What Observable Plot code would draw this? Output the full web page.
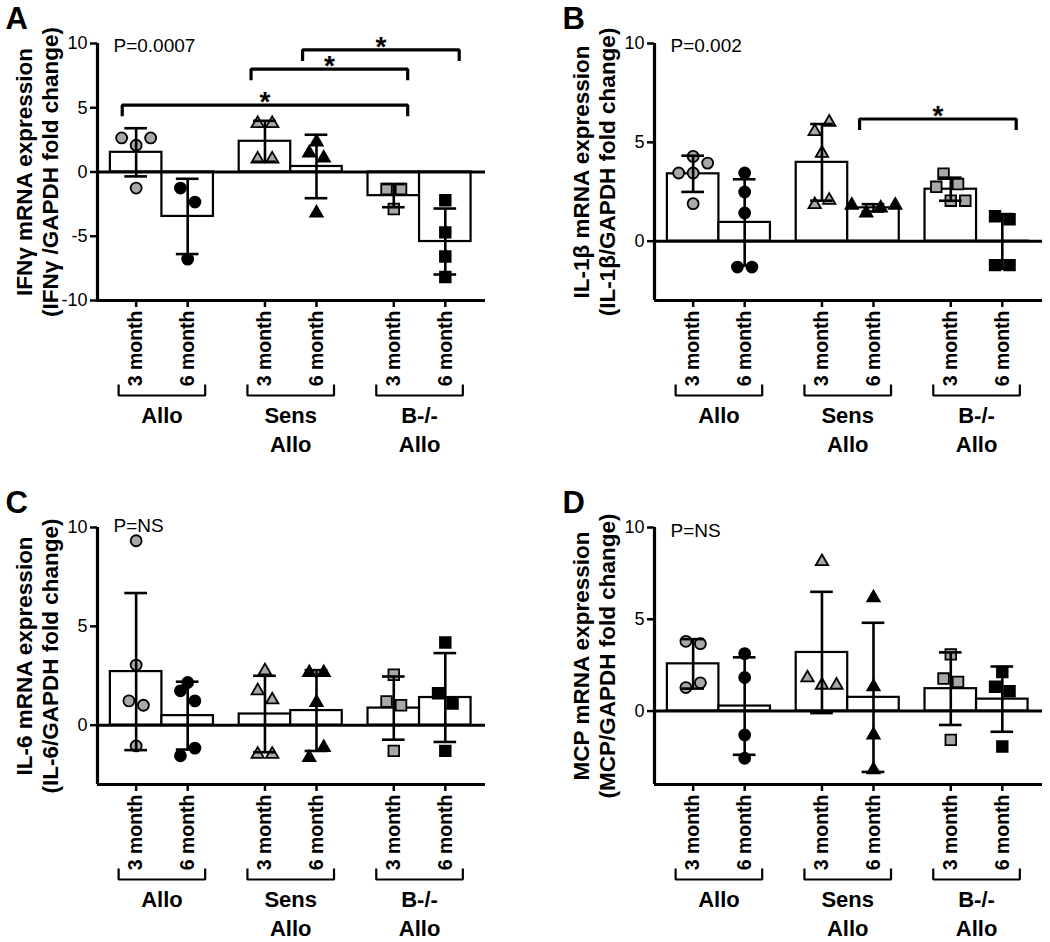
<!DOCTYPE html>
<html><head><meta charset="utf-8">
<script src="https://cdn.jsdelivr.net/npm/d3@7"></script>
<script src="https://cdn.jsdelivr.net/npm/@observablehq/plot@0.6"></script>
<style>
body{margin:0;background:#fff;}
#wrap{position:relative;width:1050px;height:942px;overflow:hidden;background:#fff;}
.panel{position:absolute;}
.panel svg{max-width:none !important;}
</style></head><body><div id="wrap"></div>
<script>
// ---- categories ----
const groups = ["Allo", "Sens\nAllo", "B-/-\nAllo"];
const times = ["3 month", "6 month"];
// order of categories: Allo 3m, Allo 6m, Sens 3m, Sens 6m, B-/- 3m, B-/- 6m

// ---- individual values (fold change), per category ----
const ifngValues = [[2.65, 2.08, 2.65, -1.25], [-1.25, -2.34, -6.78], [3.77, 3.77, 1.01, 1.01], [2.34, 1.48, 1.09, -3.19], [-1.32, -1.32, -2.88], [-2.2, -4.7, -6.57, -8.17]];
const il1bValues = [[3.45, 3.45, 3.95, 4.29, 1.9], [3.45, 2.49, 1.43, -1.31, -1.31], [5.55, 6.02, 4.45, 1.85, 2.07], [1.82, 1.43, 1.68, 1.82], [3.41, 2.89, 2.75, 2.05, 2.05], [1.26, 1.11, -1.21, -1.21]];
const il6Values = [[9.33, 3.04, 1.23, 1.01, -1.05], [2.16, 1.74, 1.23, -1.55, -1.16], [2.75, 1.74, 1.28, -1.47, -1.47], [2.66, 2.66, 1.15, -1.64, -1.13], [2.55, 1.2, 1.01, -1.3], [4.18, 1.62, 1.1, -1.3]];
const mcpValues = [[3.8, 3.67, 1.28, 1.54], [3.13, 1.83, -1.3, -2.57], [8.14, 1.81, 1.41, 1.41], [6.17, 1.32, -1.3, -3.2], [3.09, 1.77, 1.59, -1.57], [2.13, 1.32, 1.08, -1.93]];

// ---- significance brackets (category indices, bracket level) ----
const ifngSignif = [{from: 0, to: 4, y: 5.2}, {from: 2, to: 4, y: 8.0}, {from: 3, to: 5, y: 9.5}];
const il1bSignif = [{from: 3, to: 5, y: 6.18}];

// ---- texts / axes ----
const panelLetters = ["A", "B", "C", "D"];
const yLabels = ["IFNγ mRNA expression\n(IFNγ /GAPDH fold change)", "IL-1β mRNA expression\n(IL-1β/GAPDH fold change)", "IL-6 mRNA expression\n(IL-6/GAPDH fold change)", "MCP mRNA expression\n(MCP/GAPDH fold change)"];
const pTexts = ["P=0.0007", "P=0.002", "P=NS", "P=NS"];
const yDomains = [[-10, 10], [-3, 10], [-3, 10], [-4, 10]];
const yTickValues = [[-10, -5, 0, 5, 10], [0, 5, 10], [0, 5, 10], [0, 5, 10]];

// ---- layout ----
const W = 500, H = 470, ML = 97, MR = 15, MT = 43, MB = 170;
const XDOMAIN = [-0.75, 6.78];
const GROUP_STEP = 2.5;
const innerW = W - ML - MR, innerH = H - MT - MB;
const pxPerX = innerW / (XDOMAIN[1] - XDOMAIN[0]);
const ROW_PX = 14.5, SLOT_PX = 14.5;
const FONT = "'Liberation Sans', Arial, Helvetica, sans-serif";
const GRAY = "#a8a8a8";
const symbols = ["circle", "triangle", "square"];
const symbolR = {circle: 5.5, triangle: 4.6, square: 6};
const GROUP_FS = 22, GROUP_LH = 1.32;

const panelDefs = [
  {values: ifngValues, signif: ifngSignif, left: 0, top: 0, pDy: -5},
  {values: il1bValues, signif: il1bSignif, left: 557, top: 0, pDy: -5},
  {values: il6Values, signif: [], left: 0, top: 484, pDy: -9},
  {values: mcpValues, signif: [], left: 557, top: 484, pDy: -4}
];

const catPos = i => Math.floor(i / 2) * GROUP_STEP + (i % 2);

function dodge(vals, ppu) {
  const order = d3.range(vals.length).sort((a, b) => vals[a] - vals[b] || a - b);
  const rows = [];
  let cur = null;
  for (const i of order) {
    if (!cur || (vals[i] - cur.start) * ppu > ROW_PX) { cur = {start: vals[i], m: []}; rows.push(cur); }
    cur.m.push(i);
  }
  const off = new Array(vals.length).fill(0);
  for (const r of rows) {
    r.m.sort((a, b) => a - b);
    const n = r.m.length;
    r.m.forEach((i, k) => off[i] = (k - (n - 1) / 2) * SLOT_PX / pxPerX);
  }
  return off;
}

function makePanel(k) {
  const def = panelDefs[k];
  const [ymin, ymax] = yDomains[k];
  const ppu = innerH / (ymax - ymin);
  const cats = def.values.map((vals, i) => {
    const mean = d3.mean(vals), sd = d3.deviation(vals);
    return {i, pos: catPos(i), mean, sd, group: Math.floor(i / 2), time: i % 2};
  });
  const points = [];
  def.values.forEach((vals, i) => {
    const off = dodge(vals, ppu);
    vals.forEach((v, j) => points.push({cat: i, x: catPos(i) + off[j], y: v}));
  });
  const caps = cats.flatMap(c => [{pos: c.pos, y: c.mean - c.sd}, {pos: c.pos, y: c.mean + c.sd}]);
  const tickLabel = new Map(cats.map(c => [c.pos, times[c.time]]));

  // significance brackets
  const drop = 11 / ppu;
  const sigLines = def.signif.flatMap((s, j) => {
    const x1 = catPos(s.from) - 0.27, x2 = catPos(s.to) + 0.27;
    return [{j, x: x1, y: s.y - drop}, {j, x: x1, y: s.y}, {j, x: x2, y: s.y}, {j, x: x2, y: s.y - drop}];
  });
  const sigStars = def.signif.map(s => ({x: (catPos(s.from) - 0.27 + catPos(s.to) + 0.27) / 2, y: s.y}));

  // group brackets below x labels
  const gb1 = ymin - 84 / ppu, gb2 = ymin - 95 / ppu;
  const grpLines = groups.flatMap((g, gi) => {
    const a = gi * GROUP_STEP - 0.34, b = gi * GROUP_STEP + 1 + 0.34;
    return [{gi, x: a, y: gb1}, {gi, x: a, y: gb2}, {gi, x: b, y: gb2}, {gi, x: b, y: gb1}];
  });
  const grpText = groups.map((g, gi) => ({x: gi * GROUP_STEP + 0.5, y: ymin, text: g}));

  const marks = [
    Plot.rect(cats, {x1: d => d.pos - 0.5, x2: d => d.pos + 0.5, y1: 0, y2: "mean", fill: "white", stroke: "black", strokeWidth: 2.2}),
    Plot.ruleY([0], {x1: XDOMAIN[0], x2: XDOMAIN[1], stroke: "black", strokeWidth: 3})
  ];
  cats.forEach(c => {
    const sym = symbols[c.group];
    marks.push(Plot.dot(points.filter(p => p.cat === c.i), {
      x: "x", y: "y", symbol: sym, r: symbolR[sym],
      fill: c.time === 0 ? GRAY : "black", stroke: "black", strokeWidth: 1.8
    }));
  });
  marks.push(
    Plot.ruleX(cats, {x: "pos", y1: d => d.mean - d.sd, y2: d => d.mean + d.sd, stroke: "black", strokeWidth: 2.6}),
    Plot.ruleY(caps, {y: "y", x1: d => d.pos - 0.22, x2: d => d.pos + 0.22, stroke: "black", strokeWidth: 2.6}),
    Plot.line(sigLines, {x: "x", y: "y", z: "j", stroke: "black", strokeWidth: 3.2, strokeLinejoin: "miter", strokeLinecap: "butt"}),
    Plot.text(sigStars, {x: "x", y: "y", text: () => "*", dy: 6, lineAnchor: "bottom", fontSize: 28, fontWeight: "bold"}),
    // axes lines
    Plot.ruleX([XDOMAIN[0]], {y1: ymin, y2: ymax, stroke: "black", strokeWidth: 3.2}),
    Plot.ruleY([ymin], {x1: XDOMAIN[0], x2: XDOMAIN[1], stroke: "black", strokeWidth: 3.2}),
    Plot.axisY({ticks: yTickValues[k], tickSize: 7, tickPadding: 3, strokeWidth: 2.5, fontSize: 18, label: null, tickFormat: d => String(d)}),
    Plot.axisX({ticks: cats.map(c => c.pos), tickFormat: d => tickLabel.get(d), tickRotate: -90, tickSize: 7, tickPadding: 3, strokeWidth: 2.5, fontSize: 19.5, fontWeight: "bold", label: null}),
    Plot.line(grpLines, {x: "x", y: "y", z: "gi", stroke: "black", strokeWidth: 2.2, strokeLinejoin: "miter", strokeLinecap: "butt"}),
    Plot.text(grpText, {x: "x", y: "y", text: "text", dy: 107 - 0.71 * (GROUP_LH - 1) * GROUP_FS, lineAnchor: "top", fontSize: GROUP_FS, fontWeight: "bold", lineHeight: GROUP_LH}),
    Plot.text([yLabels[k]], {frameAnchor: "left", dx: -61, rotate: -90, text: d => d, textAnchor: "middle", lineAnchor: "middle", fontSize: 22.5, fontWeight: "bold", lineHeight: 1.17}),
    Plot.text([panelLetters[k]], {frameAnchor: "top-left", dx: -92, dy: -37, text: d => d, textAnchor: "start", lineAnchor: "top", fontSize: 31, fontWeight: "bold"}),
    Plot.text([pTexts[k]], {frameAnchor: "top-left", dx: 16, dy: def.pDy, text: d => d, textAnchor: "start", lineAnchor: "top", fontSize: 19})
  );

  const svg = Plot.plot({
    width: W, height: H,
    marginLeft: ML, marginRight: MR, marginTop: MT, marginBottom: MB,
    x: {domain: XDOMAIN},
    y: {domain: [ymin, ymax]},
    style: {fontFamily: FONT, fontSize: "17px", color: "black", background: "transparent", overflow: "visible", maxWidth: "none"},
    marks
  });
  const div = document.createElement("div");
  div.className = "panel";
  div.style.left = def.left + "px";
  div.style.top = def.top + "px";
  div.style.width = W + "px";
  div.style.height = H + "px";
  div.appendChild(svg);
  document.getElementById("wrap").appendChild(div);
}

[0, 1, 2, 3].forEach(makePanel);
</script>
</body></html>
